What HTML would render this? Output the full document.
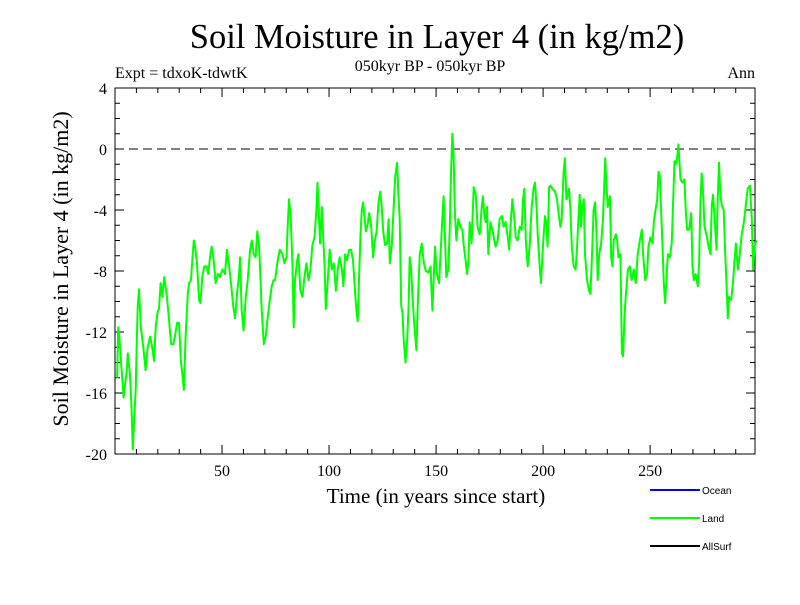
<!DOCTYPE html>
<html><head><meta charset="utf-8"><style>
body{margin:0;background:#fff;}
svg text{font-family:"Liberation Serif",serif;}
</style></head><body>
<svg id="chart" width="800" height="600" viewBox="0 0 800 600" xmlns="http://www.w3.org/2000/svg">
<text x="437" y="48" font-size="34.5" text-anchor="middle">Soil Moisture in Layer 4 (in kg/m2)</text>
<text x="430" y="71" font-size="16" text-anchor="middle">050kyr BP - 050kyr BP</text>
<text x="115" y="78" font-size="16">Expt = tdxoK-tdwtK</text>
<text x="755" y="78" font-size="16" text-anchor="end">Ann</text>
<text transform="translate(68,269) rotate(-90)" font-size="22" text-anchor="middle">Soil Moisture in Layer 4 (in kg/m2)</text>
<text x="436" y="503" font-size="21" text-anchor="middle">Time (in years since start)</text>
<g id="axes"></g>
<g id="series"></g>
<g id="legend">
<line x1="650" y1="490" x2="700" y2="490" stroke="#0000ff" stroke-width="2"/>
<text x="702" y="494" font-size="10" style="font-family:'Liberation Sans',sans-serif">Ocean</text>
<line x1="650" y1="518" x2="700" y2="518" stroke="#00ff00" stroke-width="2"/>
<text x="702" y="522" font-size="10" style="font-family:'Liberation Sans',sans-serif">Land</text>
<line x1="650" y1="546" x2="700" y2="546" stroke="#000" stroke-width="2"/>
<text x="702" y="550" font-size="10" style="font-family:'Liberation Sans',sans-serif">AllSurf</text>
</g>
</svg>
<script>
const years=[1,1.5,2,3,4,5.5,6,7,7.8,8.3,9,9.7,10.1,10.6,11.2,12.1,13.2,14.3,15.3,16.4,17.4,18.2,19,19.8,20.6,21.3,22.1,23,24.1,25.2,26.2,27.3,28,29,29.9,30.8,31.5,32.2,33,34,34.6,35.5,36.1,36.8,37.4,38.3,39.3,39.9,40.8,41.7,42.8,43.6,44.4,45.2,46.1,47,48,49,50.2,51.4,52.3,53.3,54.2,55.3,56.1,57,58,58.4,59.2,60.1,61.1,62,63.1,63.9,64.8,65.7,66.5,67.3,67.9,68.5,69.5,70.4,71.3,72.3,73.2,74.1,
74.8,76,77,78.2,79.2,80.1,80.7,81.3,82.1,82.9,83.5,84.1,85.1,85.7,86.6,87.6,88.5,89.4,90.4,91.3,92.2,93.2,94.1,94.6,95.2,95.8,96.6,97.2,97.9,98.5,99.4,100.3,101.3,102.2,103.2,104.1,105,106,106.7,107.5,108.4,109.4,110.3,111.2,112.2,112.8,113.4,114.1,114.7,115.3,115.9,116.5,117.2,118.1,118.7,119.7,120.6,121.2,122.2,123.1,123.9,124.6,125.3,126.2,127.1,127.8,128.4,129.3,130.3,130.9,131.8,132.4,133,133.7,134.3,134.9,135.7,136.5,137.1,137.7,138.4,139,139.9,140.8,141.5,142.4,143.3,144.3,145.2,146.4,147.4,148.3,
149.5,150.4,151.4,152.3,152.9,153.5,154.2,154.8,155.7,156.4,157,157.6,158.2,158.8,159.5,160.4,161.3,162.3,162.9,163.8,164.5,165.1,165.7,166.6,167.6,168.5,169.4,170.4,171.3,171.9,172.6,173.2,173.8,174.4,175.4,176.3,177.2,177.8,178.8,179.7,180.7,181.6,182.5,183.5,184.1,185,185.6,186.6,187.2,188.1,189.1,190,190.6,191.2,191.9,192.8,193.7,194.7,195.6,196.2,196.9,197.5,198.4,199,199.7,200.3,200.9,201.5,202.1,202.8,203.4,204.3,205.6,206.5,207.4,208.1,208.7,209.6,210.2,210.9,211.5,212.1,212.7,213.4,214.3,215.2,215.9,216.5,217.1,217.7,218.3,219,219.6,220.5,221.5,222.1,222.7,223.6,
224.3,224.9,225.5,226.2,227.1,228,229,229.6,230.2,231.2,231.8,232.4,233,234,234.6,235.2,236.1,236.8,237.4,238,238.6,239.6,240.5,241.4,242.4,243.3,244.2,245.2,246.1,246.7,247.7,248.6,249.2,250.2,251.1,251.7,252.3,253.3,253.9,254.5,255.1,255.8,256.4,257,257.6,258.3,259.2,260.1,260.7,261.4,262,262.6,263.2,264.2,265.1,266,266.7,267.3,268.2,269.2,269.8,270.4,271.3,272.3,272.9,273.5,274.1,274.8,275.4,276.3,277.3,278.2,278.8,279.4,280.1,281,281.6,282.2,282.9,283.5,284.4,285.1,285.7,286.3,286.9,287.9,288.8,289.4,290.1,291,291.9,292.8,293.8,294.7,295.6,296.6,297.5,298.1,298.8,299.7];
const landValues=[-15,-11.7,-12.3,-14.3,-16.3,-14.5,-13.4,-14.8,-17.3,-19.7,-17.6,-15.6,-13,-10.4,-9.2,-11.7,-13,-14.5,-13,-12.3,-13,-13.9,-11.7,-10.8,-10.4,-8.8,-9.7,-8.4,-9.5,-11.1,-12.8,-12.8,-12.3,-11.4,-11.4,-13.9,-14.8,-15.8,-12.3,-9.5,-8.8,-8.6,-7.3,-6,-6.4,-7.5,-9.9,-10.1,-8.4,-7.7,-7.7,-8.2,-7.1,-6.4,-7.3,-8.8,-8.2,-8.4,-7.9,-8.2,-6.6,-7.7,-8.8,-10.4,-11.1,-9.5,-8.2,-7.1,-10.6,-11.9,-9.7,-8.6,-6.6,-6,-6.9,-7.1,-5.4,-6.4,-8.2,-10.4,-12.8,-12.3,-11.1,-9.9,-9,-8.6,
-8.6,-7.3,-6.6,-6.9,-7.5,-7.1,-5.1,-3.3,-4.4,-7.5,-11.7,-8.6,-7.3,-6.9,-9.3,-9.7,-8.4,-7.5,-8.6,-7.9,-6.3,-5.8,-4,-2.2,-4.2,-6.2,-3.8,-5.6,-7.7,-10.5,-8.6,-6.6,-7.9,-7.5,-9.3,-7.9,-7.1,-7.9,-9,-6.9,-7.3,-6.6,-6.6,-7.3,-9.5,-10.6,-11.3,-8.2,-5.6,-4,-3.5,-4.4,-5.4,-4.9,-4.2,-5.1,-7.1,-6.2,-5.4,-3.5,-2.8,-3.8,-5.4,-6.3,-6.2,-4.6,-7.5,-6.3,-3.5,-1.8,-0.9,-3,-4.6,-10.3,-10.7,-12.5,-14,-12.5,-10.5,-7.1,-7.9,-9.7,-11.7,-13.2,-9.9,-6.9,-6.2,-7.5,-8,-8.1,-7.7,-10.6,
-6.4,-8.2,-8.8,-6.3,-4.6,-3.1,-6,-8.4,-7.9,-5.1,-1.4,1.0,-0.4,-4.2,-6,-4.6,-5.1,-5.3,-6.3,-7.3,-8.2,-7.3,-4.8,-6.2,-2.5,-3,-5.1,-5.6,-3.8,-3.1,-4.4,-4.8,-3.8,-6.9,-4.8,-5.3,-6,-6.4,-6,-4.6,-4.4,-5.1,-4.8,-5.8,-6.6,-4.6,-3.3,-4.6,-5.8,-6,-5.1,-5.3,-3.3,-2.6,-6,-7.7,-6.4,-3.8,-2.5,-2.2,-3.7,-5.6,-7.7,-8.8,-6.9,-5.6,-4.4,-4.8,-6.4,-2.5,-2.4,-2.6,-2.8,-3.3,-4.4,-5.1,-4.6,-1.5,-0.6,-3.3,-3.1,-2.6,-3.8,-6.4,-7.7,-7.9,-6.4,-4.6,-3,-5.1,-3.8,-3.3,-6.9,-8.6,-9.3,-9.5,-7.5,-4,
-3.5,-5.3,-8.6,-6.9,-6.2,-4.6,-0.6,-2.4,-3.8,-3.1,-7.1,-7.7,-6,-5.6,-6,-7.1,-6.9,-13.4,-13.6,-11.1,-9.7,-7.9,-7.7,-8.6,-7.9,-8.8,-6.9,-6,-5.3,-6.9,-8.6,-8.2,-6.4,-5.8,-6.2,-4.8,-4.2,-3.3,-1.5,-1.7,-3.8,-6.4,-8.8,-10.1,-8.6,-6.9,-7.1,-6.2,-3.7,-0.8,-1,-0.6,0.3,-2,-2.2,-2,-4.2,-5.3,-5.3,-4.2,-7.7,-8.6,-8.2,-9,-7.5,-3.5,-1.6,-3,-5.1,-5.6,-6.4,-6.9,-3.7,-3,-4.4,-6.6,-3.1,-0.9,-3.1,-3.7,-4,-6.9,-8.8,-11.1,-9.7,-9.9,-8.6,-7.3,-6.2,-7.9,-6.9,-5.6,-4.8,-3.7,-2.6,-2.4,-4.6,-7.9,-6.4,-6];
const yTickLabels=[4,0,-4,-8,-12,-16,-20];
const xTickLabels=[50,100,150,200,250];

const X0=115,X1=755,Y0=88,Y1=454,XMIN=0,XMAX=299,YMIN=-20,YMAX=4;
const sx=v=>X0+(v-XMIN)/(XMAX-XMIN)*(X1-X0);
const sy=v=>Y1-(v-YMIN)/(YMAX-YMIN)*(Y1-Y0);
const NS="http://www.w3.org/2000/svg";
const axes=document.getElementById('axes');
function mk(tag,attrs,parent){const e=document.createElementNS(NS,tag);for(const k in attrs)e.setAttribute(k,attrs[k]);parent.appendChild(e);return e;}
const frame=mk('rect',{x:X0,y:Y0,width:X1-X0,height:Y1-Y0,fill:'none',stroke:'#000','stroke-width':1},axes);


for(let v=YMIN;v<=YMAX;v++){
  const major=(v%4===0);const len=major?9:5;const y=sy(v);
  const t1=mk('line',{x1:X0,y1:y,x2:X0+len,y2:y,stroke:'#000'},axes);
  
  
  const t2=mk('line',{x1:X1,y1:y,x2:X1-len,y2:y,stroke:'#000'},axes);
  
  
}
yTickLabels.forEach(v=>{
  const t=mk('text',{x:X0-8,y:sy(v)+6,'font-size':16,'text-anchor':'end'},axes);t.textContent=v;
  
  
});
for(let v=10;v<=XMAX;v+=10){
  const major=(v%50===0);const len=major?9:5;const x=sx(v);
  const t1=mk('line',{x1:x,y1:Y1,x2:x,y2:Y1-len,stroke:'#000'},axes);
  
  
  const t2=mk('line',{x1:x,y1:Y0,x2:x,y2:Y0+len,stroke:'#000'},axes);
  
  
}
xTickLabels.forEach(v=>{
  const t=mk('text',{x:sx(v),y:Y1+22,'font-size':16,'text-anchor':'middle'},axes);t.textContent=v;
  
  
});
const zl=mk('line',{x1:X0,y1:sy(0),x2:X1,y2:sy(0),stroke:'#000','stroke-dasharray':'9,5'},axes);


const pts=years.map((yr,i)=>sx(yr).toFixed(1)+','+sy(landValues[i]).toFixed(1)).join(' ');
const pl=mk('polyline',{points:pts,fill:'none',stroke:'#00ff00','stroke-width':2,'stroke-linejoin':'round'},document.getElementById('series'));


</script>
</body></html>
